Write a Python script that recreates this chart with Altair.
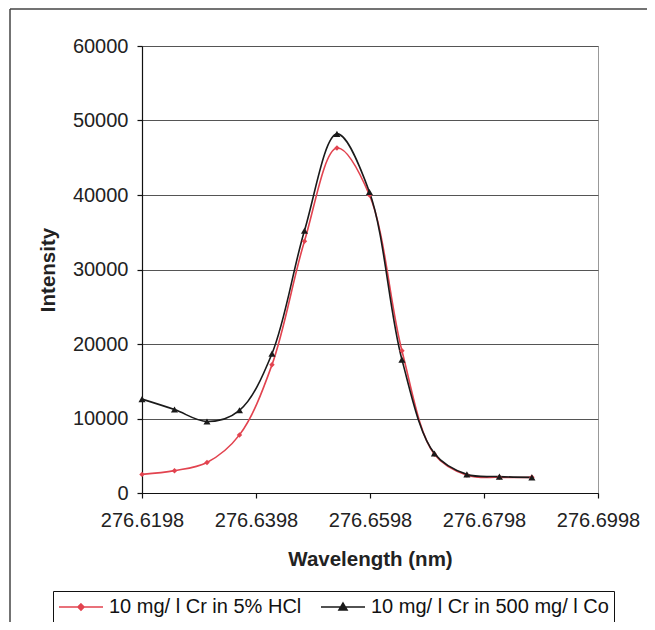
import altair as alt
import pandas as pd

# ---- data ----
wavelength = [276.6198, 276.6255, 276.6312, 276.6369, 276.6426, 276.6483, 276.6540,
              276.6597, 276.6654, 276.6711, 276.6768, 276.6825, 276.6882]
cr_hcl = [2500, 3000, 4100, 7800, 17200, 33800, 46300, 40000, 19100, 5200, 2400, 2100, 2100]
cr_co = [12600, 11200, 9600, 11100, 18700, 35200, 48200, 40400, 17900, 5300, 2500, 2200, 2100]
series_names = ["10 mg/ l Cr in 5% HCl", "10 mg/ l Cr in 500 mg/ l Co"]
x_ticks = [276.6198, 276.6398, 276.6598, 276.6798, 276.6998]
y_ticks = [0, 10000, 20000, 30000, 40000, 50000, 60000]

RED = "#e2434f"
BLACK = "#1a1a1a"
FONT = "Liberation Sans"

rows = []
for w, v in zip(wavelength, cr_hcl):
    rows.append({"wl": w, "val": v, "series": series_names[0]})
for w, v in zip(wavelength, cr_co):
    rows.append({"wl": w, "val": v, "series": series_names[1]})
df = pd.DataFrame(rows)

x_enc = alt.X("wl:Q",
              scale=alt.Scale(domain=[276.6198, 276.6998], nice=False, zero=False),
              axis=alt.Axis(values=x_ticks, format=".4f", title="Wavelength (nm)",
                            grid=False, tickSize=5, labelPadding=12,
                            labelOverlap=False, labelFlush=False,
                            titleY=56, titleBaseline="top"))
y_enc = alt.Y("val:Q",
              scale=alt.Scale(domain=[0, 60000], nice=False),
              axis=alt.Axis(values=y_ticks, format="d", title="Intensity",
                            grid=True, gridColor="#555555", gridWidth=1,
                            tickSize=5, labelPadding=9,
                            labelOverlap=False, labelFlush=False,
                            titleX=-84, titleY=223.5, titleAngle=270,
                            titleBaseline="bottom", titleAlign="center"))

base = alt.Chart(df)

red_line = base.transform_filter(alt.datum.series == series_names[0]).mark_line(
    color=RED, strokeWidth=1.6, interpolate="catmull-rom").encode(x=x_enc, y=y_enc)
red_pts = base.transform_filter(alt.datum.series == series_names[0]).mark_point(
    shape="diamond", filled=True, size=30, color=RED, opacity=1).encode(x="wl:Q", y="val:Q")
black_line = base.transform_filter(alt.datum.series == series_names[1]).mark_line(
    color=BLACK, strokeWidth=1.6, interpolate="catmull-rom").encode(x="wl:Q", y="val:Q")
black_pts = base.transform_filter(alt.datum.series == series_names[1]).mark_point(
    shape="triangle-up", filled=True, size=50, color=BLACK, opacity=1).encode(x="wl:Q", y="val:Q")

# legend: custom symbols combining a line segment and the marker
leg_paths = ["M-1,0H3.4M1.2,-0.3L1.5,0L1.2,0.3L0.9,0Z",
             "M-1,0H3.4M1.2,-0.38L1.6,0.3L0.8,0.3Z"]
leg = alt.Legend(title=None, orient="none", legendX=-89, legendY=545,
                 direction="horizontal", symbolSize=400, symbolStrokeWidth=1.6,
                 labelFont=FONT, labelFontSize=20, labelColor="#111111",
                 labelLimit=1000,
                 labelOffset=29, columnPadding=15, padding=5,
                 strokeColor="#111111", fillColor="white")
legend_layer = base.transform_filter("false").mark_point(filled=True, opacity=1).encode(
    shape=alt.Shape("series:N", scale=alt.Scale(domain=series_names, range=leg_paths), legend=leg),
    fill=alt.Fill("series:N", scale=alt.Scale(domain=series_names, range=[RED, BLACK]), legend=leg),
    stroke=alt.Stroke("series:N", scale=alt.Scale(domain=series_names, range=[RED, BLACK]), legend=leg),
)

frame_data = alt.Data(values=[{"k": 0}])
frame_top = alt.Chart(frame_data).mark_rule(color="#444444", strokeWidth=1.5).encode(
    x=alt.value(-132), x2=alt.value(700), y=alt.value(-37))
frame_left = alt.Chart(frame_data).mark_rule(color="#444444", strokeWidth=1.5).encode(
    x=alt.value(-132), y=alt.value(-37), y2=alt.value(700))

chart = alt.layer(frame_top, frame_left, red_line, black_line, red_pts, black_pts, legend_layer).properties(
    width=456, height=447,
    autosize=alt.AutoSizeParams(type="none"),
    padding={"left": 134, "top": 38, "right": 49, "bottom": 129},
).configure(font=FONT).configure_view(
    stroke="#999999", strokeWidth=1
).configure_axis(
    domainColor="#111111", tickColor="#111111", labelColor="#222222",
    labelFont=FONT, labelFontSize=20, titleFont=FONT, titleFontSize=20.5,
    titleFontWeight="bold", titleColor="#222222", domainWidth=1.2, tickWidth=1.2
)

chart.save("out.html", embed_options={"renderer": "svg", "actions": False})
